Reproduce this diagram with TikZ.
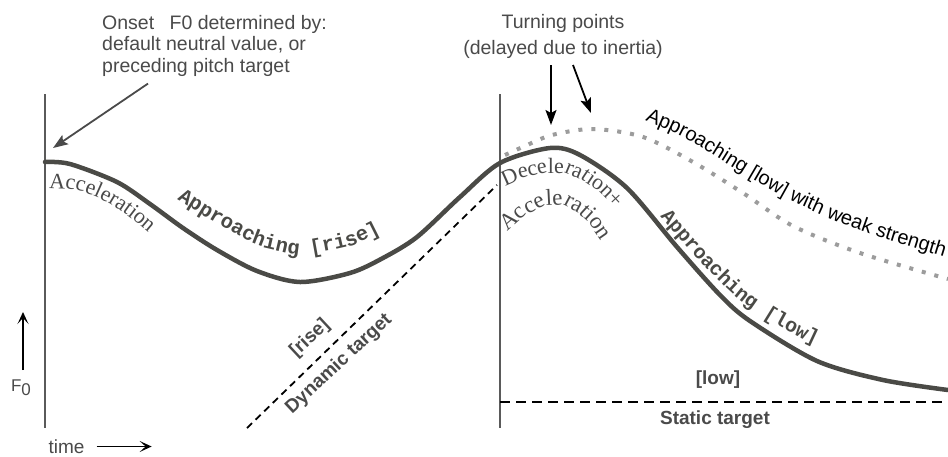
\documentclass[tikz,border=0pt]{standalone}
\usepackage{fontspec}
\setmainfont{Liberation Serif}
\setsansfont{Liberation Sans}
\newfontfamily\courfont{Liberation Mono}
\usetikzlibrary{arrows.meta,decorations.text}
\definecolor{curvegray}{HTML}{4A4A46}
\definecolor{dotgray}{HTML}{9C9C9C}
\definecolor{labelgray}{HTML}{4A4A4A}
\definecolor{axisgray}{HTML}{5A5A5A}
\begin{document}
\begin{tikzpicture}[x=1pt,y=-1pt,
    note/.style={font=\sffamily\fontsize{19.5}{21.5}\selectfont,text=labelgray,inner sep=0pt},
    tag/.style={font=\sffamily\bfseries\fontsize{19}{19}\selectfont,text=labelgray,inner sep=0pt},
    contour/.style={line width=4.5pt,curvegray,line cap=round,line join=round},
    weakcontour/.style={line width=4pt,dotgray,dash pattern=on 4pt off 9pt},
    guide/.style={line width=1.5pt,axisgray},
    pointer/.style={line width=1.8pt,-{Stealth[length=15pt,width=11pt,inset=3pt]}},
    axisarrow/.style={line width=1.5pt,-{Stealth[length=12pt,width=11pt,inset=6pt]}},
    phase/.style={decorate,rounded corners=12pt,decoration={text along path,text color=labelgray}},
    ]
    \fill[white] (0,0) rectangle (948,456);
    \useasboundingbox (0,0) rectangle (948,456);
    \draw[guide] (45,94)--(45,428);
    \draw[guide] (500,94)--(500,428);
    \draw[black,line width=1.8pt,dash pattern=on 7pt off 5pt] (247,428)--(497,185);
    \draw[black,line width=1.5pt,dash pattern=on 10pt off 6pt] (500,402)--(948,402);
    \draw[weakcontour] plot[smooth] coordinates {(505,155) (525,146) (552,135) (593,129) (643,137) (693,162) (743,193) (793,226) (860,253) (948,279)};
    \draw[contour] plot[smooth] coordinates {(45,162) (70,164) (117,182) (150,204) (183,228) (217,250) (257,271) (300,282) (350,273) (383,258) (417,237) (460,197) (500,163) (550,148) (580,155) (627,188) (677,247) (720,295) (750,321) (817,361) (883,380) (948,390)};
    \path[phase,decoration={text={|\rmfamily\fontsize{22}{22}\selectfont|Acceleration}}] (49,188)--(75,189)--(100,198)--(125,213)--(152,236)--(170,252);
    \path[phase,sharp corners,decoration={text={|\rmfamily\fontsize{22}{22}\selectfont|Deceleration+}}] (505,186)--(523,178)--(545,173)--(565,173)--(582,180)--(597,190)--(610,203)--(624,218)--(640,236);
    \path[phase,sharp corners,decoration={text={|\rmfamily\fontsize{23}{23}\selectfont|Acceleration}}] (507,231)--(524,216)--(544,206)--(563,205)--(578,213)--(589,223)--(598,236)--(606,250)--(616,268);
    \path[phase,decoration={text color=curvegray,text={|\courfont\bfseries\fontsize{20.5}{20.5}\selectfont|Approaching [rise]}}] (177,199)--(217,224)--(257,246)--(300,256)--(350,247)--(383,232)--(410,214);
    \path[phase,decoration={text color=curvegray,text={|\courfont\bfseries\fontsize{20}{20}\selectfont|Approaching [low]}}] (660,216)--(700,262)--(735,297)--(768,320)--(812,344)--(850,358);
    \path[phase,decoration={text color=black,text={|\sffamily\fontsize{20}{20}\selectfont|Approaching [low] with weak strength}}] (645,120)--(680,135)--(713,155)--(750,178)--(793,202)--(835,221)--(882,238)--(980,268);
    \node[note,anchor=north west,align=left] (onset) at (102,15) {Onset\hspace{10pt} F0 determined by:\\default neutral value, or\\preceding pitch target};
    \coordinate (onsetpt) at (53,148);
    \draw[pointer,labelgray] ([shift={(46,7)}]onset.south west)--(onsetpt);
    \node[note,align=center,font=\sffamily\fontsize{19.5}{26}\selectfont,anchor=north] (turning) at (563,14) {Turning points\\(delayed due to inertia)};
    \coordinate (turnmain) at (551,125);
    \coordinate (turnweak) at (591,113);
    \draw[pointer,black] (551,65)--(turnmain);
    \draw[pointer,black] (573,65)--(turnweak);
    \node[tag,rotate=43] (riselabel) at (310,338) {[rise]};
    \node[tag,rotate=43] (dyntarget) at (339,364) {Dynamic target};
    \node[tag] (lowlabel) at (718,380) {[low]};
    \node[tag] (stattarget) at (715,420) {Static target};
    \node[note,font=\sffamily\fontsize{17}{17}\selectfont] (fzero) at (21,388) {F\raisebox{-4pt}{0}};
    \coordinate (ftop) at (23,312);
    \draw[axisarrow] (23,370)--(ftop);
    \node[note,font=\sffamily\fontsize{19}{19}\selectfont] (timelabel) at (66.5,446.5) {time};
    \draw[axisarrow] ([xshift=12pt]timelabel.east)--+(55,0);
\end{tikzpicture}
\end{document}
